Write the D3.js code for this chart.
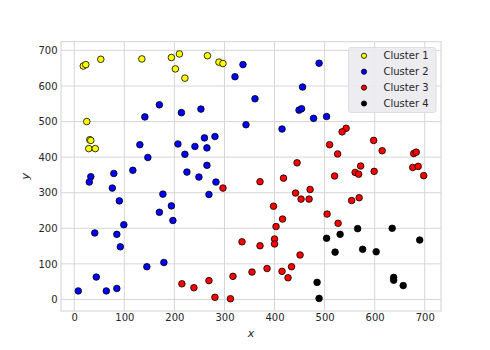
<!DOCTYPE html>
<html>
<head>
<meta charset="utf-8">
<script src="https://cdn.jsdelivr.net/npm/d3@7"></script>
<style>
  body { margin: 0; background: #fff; }
  svg { font-family: 'DejaVu Sans', sans-serif; }
</style>
</head>
<body>
<div id="chart"></div>
<script>
'use strict'

/****** DATA ******/

const clusterNames = ['Cluster 1', 'Cluster 2', 'Cluster 3', 'Cluster 4']
const clusterColors = ['#ffff00', '#0000ff', '#ff0000', '#000000']

const cluster1 = [
  [18, 656], [23, 660], [53, 675], [135, 676], [194, 680], [210, 690], [202, 648],
  [221, 622], [266, 685], [289, 667], [297, 663], [25, 500], [31, 449], [33, 447],
  [29, 424], [42, 424]
]

const cluster2 = [
  [337, 660], [321, 626], [361, 564], [170, 547], [141, 513], [214, 525], [253, 535],
  [343, 491], [131, 435], [207, 437], [147, 399], [221, 408], [241, 430], [260, 454],
  [281, 458], [265, 426], [265, 377], [117, 363], [79, 354], [33, 345], [30, 330],
  [76, 313], [90, 277], [99, 210], [41, 187], [85, 183], [92, 148], [44, 63],
  [8, 24], [64, 24], [85, 31], [145, 92], [179, 104], [170, 245], [177, 296],
  [194, 263], [197, 222], [225, 358], [249, 344], [283, 330], [269, 295],
  [489, 664], [456, 597], [449, 532], [454, 536], [478, 509], [504, 514], [415, 479]
]

const cluster3 = [
  [297, 313], [335, 162], [215, 44], [239, 33], [269, 53], [317, 65], [281, 6],
  [312, 2], [355, 77], [543, 481], [535, 471], [510, 435], [526, 409], [598, 447],
  [615, 418], [445, 384], [678, 410], [683, 414], [572, 375], [676, 371], [687, 374],
  [599, 360], [371, 331], [418, 341], [520, 347], [561, 357], [568, 352], [698, 348],
  [442, 299], [471, 309], [453, 282], [469, 282], [554, 278], [569, 286], [398, 262],
  [416, 226], [403, 205], [505, 240], [527, 214], [400, 170], [400, 156], [371, 151],
  [451, 125], [385, 87], [415, 79], [434, 92], [427, 61]
]

const cluster4 = [
  [504, 172], [531, 183], [566, 199], [635, 200], [690, 167], [521, 133], [576, 141],
  [603, 134], [485, 48], [489, 3], [638, 62], [638, 54], [657, 39]
]

const clusters = [cluster1, cluster2, cluster3, cluster4]
const xTicks = [0, 100, 200, 300, 400, 500, 600, 700]
const yTicks = [0, 100, 200, 300, 400, 500, 600, 700]


/****** CHART ******/

const width = 490, height = 350
const margin = {top: 41.7, right: 49, bottom: 39, left: 61}

const svg = d3.select('#chart').append('svg')
  .attr('width', width)
  .attr('height', height)

// matplotlib-style 5% padding on the data extent
function padded(ext) {
  const p = (ext[1] - ext[0]) * 0.05
  return [ext[0] - p, ext[1] + p]
}
const allPts = clusters.flat()

const x = d3.scaleLinear()
  .domain(padded(d3.extent(allPts, d => d[0])))
  .range([margin.left, width - margin.right])

const y = d3.scaleLinear()
  .domain(padded(d3.extent(allPts, d => d[1])))
  .range([height - margin.bottom, margin.top])

const gridColor = '#d6d6d6'
const textColor = '#262626'

// grid
const grid = svg.append('g')
grid.selectAll('.vgrid')
  .data(xTicks)
  .join('line')
    .attr('x1', d => x(d)).attr('x2', d => x(d))
    .attr('y1', y.range()[0]).attr('y2', y.range()[1])
    .attr('stroke', gridColor).attr('stroke-width', 1)
grid.selectAll('.hgrid')
  .data(yTicks)
  .join('line')
    .attr('y1', d => y(d)).attr('y2', d => y(d))
    .attr('x1', x.range()[0]).attr('x2', x.range()[1])
    .attr('stroke', gridColor).attr('stroke-width', 1)

// frame
svg.append('rect')
  .attr('x', x.range()[0]).attr('y', y.range()[1])
  .attr('width', x.range()[1] - x.range()[0])
  .attr('height', y.range()[0] - y.range()[1])
  .attr('fill', 'none')
  .attr('stroke', gridColor).attr('stroke-width', 1.1)

// axes (no tick marks, labels only)
const xAxis = svg.append('g')
  .attr('transform', `translate(0,${y.range()[0]})`)
  .call(d3.axisBottom(x).tickValues(xTicks).tickSize(0).tickPadding(3))
const yAxis = svg.append('g')
  .attr('transform', `translate(${x.range()[0]},0)`)
  .call(d3.axisLeft(y).tickValues(yTicks).tickSize(0).tickPadding(3.5))

for (const ax of [xAxis, yAxis]) {
  ax.select('.domain').remove()
  ax.selectAll('.tick line').remove()
  ax.selectAll('.tick text')
    .attr('fill', textColor)
    .style('font-size', '10px')
    .style('font-family', 'DejaVu Sans, sans-serif')
}

// axis labels
svg.append('text')
  .attr('x', (x.range()[0] + x.range()[1]) / 2)
  .attr('y', 337)
  .attr('text-anchor', 'middle')
  .attr('fill', textColor)
  .style('font-size', '11px')
  .style('font-style', 'italic')
  .text('x')

svg.append('text')
  .attr('transform', `translate(29,${(y.range()[0] + y.range()[1]) / 2}) rotate(-90)`)
  .attr('text-anchor', 'middle')
  .attr('fill', textColor)
  .style('font-size', '11px')
  .style('font-style', 'italic')
  .text('y')

// points
clusters.forEach((pts, i) => {
  svg.append('g').selectAll('circle')
    .data(pts)
    .join('circle')
      .attr('cx', d => x(d[0]))
      .attr('cy', d => y(d[1]))
      .attr('r', 3.3)
      .attr('fill', clusterColors[i])
      .attr('stroke', '#000')
      .attr('stroke-width', 0.8)
})

// legend
const legend = svg.append('g').attr('transform', 'translate(348.5,47.5)')
legend.append('rect')
  .attr('width', 87.5).attr('height', 65)
  .attr('rx', 2.5)
  .attr('fill', '#eaeaf0')
  .attr('fill-opacity', 0.9)
  .attr('stroke', '#d8d8d8')
  .attr('stroke-width', 0.8)

const rows = legend.selectAll('.row')
  .data(clusterNames)
  .join('g')
    .attr('transform', (d, i) => `translate(0,${8.3 + i * 15.9})`)
rows.append('circle')
  .attr('cx', 15.5).attr('cy', 0)
  .attr('r', 2.6)
  .attr('fill', (d, i) => clusterColors[i])
  .attr('stroke', '#000').attr('stroke-width', 0.8)
rows.append('text')
  .attr('x', 35).attr('y', 0)
  .attr('dy', '0.35em')
  .attr('fill', textColor)
  .style('font-size', '10px')
  .text(d => d)
</script>
</body>
</html>
